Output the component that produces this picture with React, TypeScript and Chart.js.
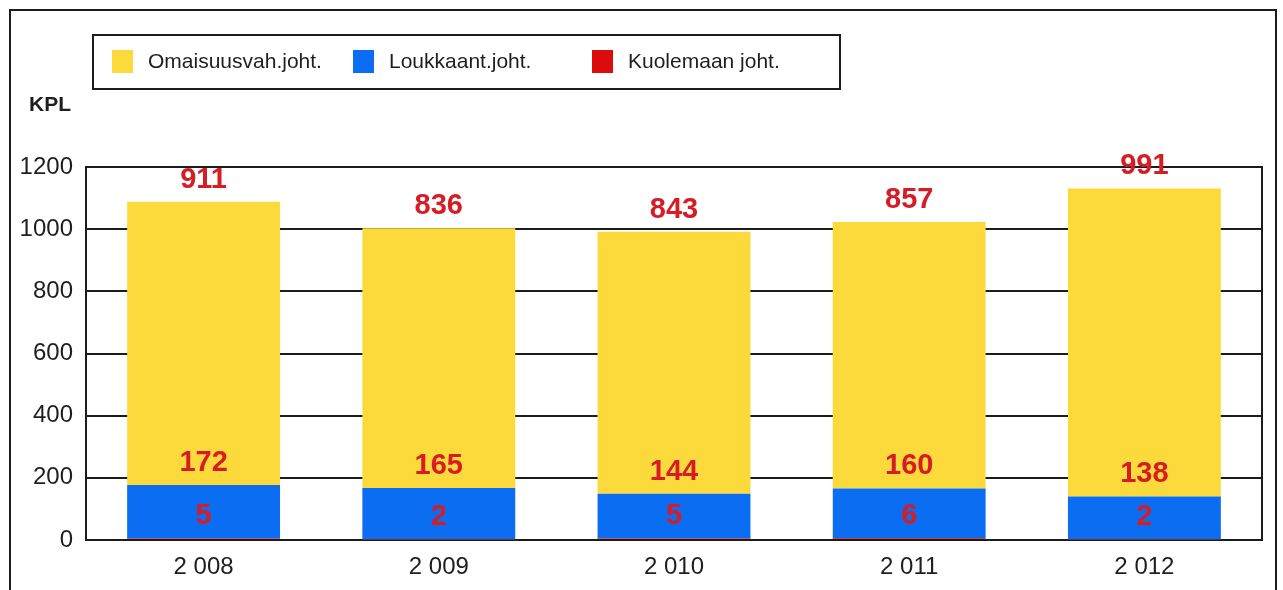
import React, { useEffect, useRef } from "react";
import { Chart, registerables } from "chart.js";

Chart.register(...registerables);

const years = ["2 008", "2 009", "2 010", "2 011", "2 012"];
const fatalCounts = [5, 2, 5, 6, 2];
const injuryCounts = [172, 165, 144, 160, 138];
const propertyCounts = [911, 836, 843, 857, 991];
const seriesNames = ["Kuolemaan joht.", "Loukkaant.joht.", "Omaisuusvah.joht."];
const seriesColors = ["#DD0C0C", "#0B6EF2", "#FDDA3C"];
const unitLabel = "KPL";
const yMax = 1200;
const yStep = 200;

const FONT = "'Liberation Sans', Arial, sans-serif";
const LINE = "#1c1c1c";

const decorPlugin = {
  id: "decor",
  beforeDraw(chart: any) {
    const ctx = chart.ctx;
    ctx.save();
    ctx.fillStyle = "#ffffff";
    ctx.fillRect(0, 0, chart.width, chart.height);
    ctx.restore();
  },
  afterDraw(chart: any) {
    const ctx = chart.ctx;
    const a = chart.chartArea;
    ctx.save();
    ctx.strokeStyle = LINE;
    ctx.lineWidth = 2;
    // right border of plot
    ctx.beginPath();
    ctx.moveTo(a.right, a.top - 1);
    ctx.lineTo(a.right, a.bottom + 1);
    ctx.stroke();
    // outer frame
    ctx.strokeRect(10, 10, 1266, 640);
    // legend box
    ctx.strokeRect(93, 35, 747, 54);
    const ds = chart.data.datasets.slice().reverse();
    const xs = [112, 353, 592];
    ctx.textAlign = "left";
    ctx.textBaseline = "middle";
    ctx.font = "21px " + FONT;
    ds.forEach((d: any, i: number) => {
      ctx.fillStyle = d.backgroundColor;
      ctx.fillRect(xs[i], 50, 21, 23);
      ctx.fillStyle = "#1e1e1e";
      ctx.fillText(d.label, xs[i] + 36, 62);
    });
    // unit label
    ctx.font = "bold 21px " + FONT;
    ctx.fillStyle = "#1e1e1e";
    ctx.fillText(unitLabel, 29, 105);
    // value labels
    ctx.font = "bold 29px " + FONT;
    ctx.fillStyle = "#D61C24";
    ctx.textAlign = "center";
    chart.data.datasets.forEach((d: any, di: number) => {
      const meta = chart.getDatasetMeta(di);
      meta.data.forEach((bar: any, i: number) => {
        const p = bar.getProps(["x", "y"], true);
        ctx.fillText(String(d.data[i]), p.x, p.y - 22);
      });
    });
    ctx.restore();
  },
};

export default function App() {
  const ref = useRef<HTMLCanvasElement | null>(null);
  useEffect(() => {
    if (!ref.current) return;
    const values = [fatalCounts, injuryCounts, propertyCounts];
    const chart = new Chart(ref.current, {
      type: "bar",
      data: {
        labels: years,
        datasets: values.map((v, i) => ({
          label: seriesNames[i],
          data: v,
          backgroundColor: seriesColors[i],
          borderWidth: 0,
          barPercentage: 0.65,
          categoryPercentage: 1,
        })),
      },
      options: {
        responsive: false,
        animation: false,
        devicePixelRatio: 1,
        layout: { padding: { left: 0, top: 167, right: 21, bottom: 0 } },
        plugins: { legend: { display: false }, tooltip: { enabled: false } },
        scales: {
          x: {
            stacked: true,
            grid: { display: false, drawTicks: false },
            border: { display: true, color: LINE, width: 2 },
            ticks: { color: "#1e1e1e", font: { family: FONT, size: 24 }, padding: 13 },
            afterFit(scale: any) {
              scale.height = 50;
            },
          },
          y: {
            stacked: true,
            min: 0,
            max: yMax,
            grid: { color: LINE, lineWidth: 2, drawTicks: false },
            border: { display: true, color: LINE, width: 2 },
            ticks: {
              stepSize: yStep,
              color: "#1e1e1e",
              font: { family: FONT, size: 24 },
              padding: 13,
              callback: (v: any) => String(v),
            },
            afterFit(scale: any) {
              scale.width = 86;
            },
          },
        },
      },
      plugins: [decorPlugin],
    });
    return () => chart.destroy();
  }, []);
  return (
    <div style={{ position: "fixed", left: 0, top: 0, width: 1283, height: 590, background: "#fff" }}>
      <canvas ref={ref} width={1283} height={590} style={{ width: 1283, height: 590, display: "block" }} />
    </div>
  );
}
